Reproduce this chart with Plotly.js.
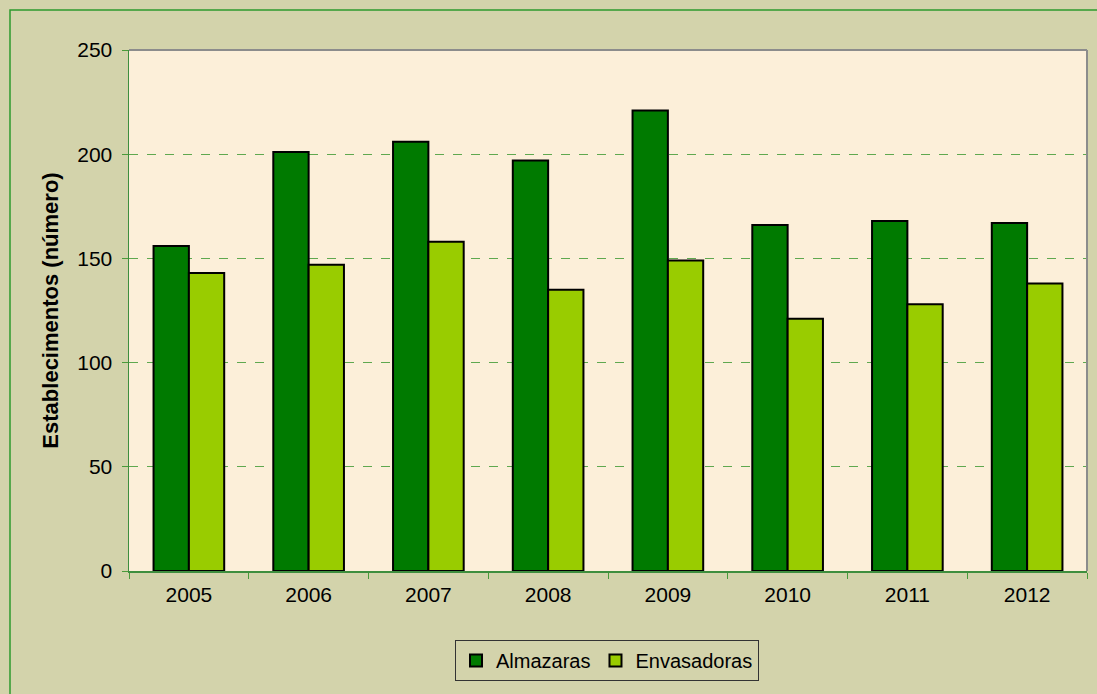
<!DOCTYPE html>
<html>
<head>
<meta charset="utf-8">
<script src="https://cdn.plot.ly/plotly-3.0.1.min.js"></script>
<style>
html,body{margin:0;padding:0;background:#D3D3AB;}
#chart{width:1097px;height:694px;}
</style>
</head>
<body>
<div id="chart"></div>
<script>
const years = ['2005','2006','2007','2008','2009','2010','2011','2012'];
const almazaras = [156, 201, 206, 197, 221, 166, 168, 167];
const envasadoras = [143, 147, 158, 135, 149, 121, 128, 138];
const yTicks = [0, 50, 100, 150, 200, 250];

const FAM = 'Liberation Sans, Arial, sans-serif';
const font = {family: FAM, size: 21, color: '#000'};

const traces = [
  {type:'bar', name:'Almazaras', x: years, y: almazaras,
   marker:{color:'#007A00', line:{color:'#000', width:2}}},
  {type:'bar', name:'Envasadoras', x: years, y: envasadoras,
   marker:{color:'#99CC00', line:{color:'#000', width:2}}}
];

const L = 129, T = 50, R = 1087, B = 571, W = 1097, H = 694;
const pw = R - L, ph = B - T;
const px = v => (v - L) / pw;
const py = v => (B - v) / ph;

const layout = {
  width: W, height: H,
  margin: {l: L, r: W - R, t: T, b: H - B, pad: 0},
  paper_bgcolor: '#D3D3AB',
  plot_bgcolor: '#FCEFD9',
  font: font,
  barmode: 'group',
  bargap: 0.41,
  bargroupgap: 0,
  showlegend: true,
  legend: {
    orientation: 'h', x: px(607), xanchor: 'center', y: py(640), yanchor: 'top',
    bordercolor: '#333', borderwidth: 1, bgcolor: 'rgba(0,0,0,0)',
    font: {family: FAM, size: 20, color: '#000'}, itemwidth: 30, traceorder: 'normal'
  },
  xaxis: {
    type: 'category', tickson: 'boundaries', ticks: 'outside', ticklen: 6,
    tickcolor: '#4A9A3A', showline: true, linecolor: '#3E8E3E', linewidth: 1.5,
    showgrid: false, tickfont: font, automargin: false, ticklabelstandoff: 4
  },
  yaxis: {
    range: [0, 250], tickvals: yTicks, ticks: 'outside', ticklen: 6,
    tickcolor: '#4A9A3A', showline: true, linecolor: '#3E8E3E', linewidth: 1.5,
    showgrid: true, gridcolor: '#5FA84F', griddash: 'dash', gridwidth: 1,
    zeroline: false, tickfont: font, automargin: false, ticklabelstandoff: 5,
    title: {text: 'Establecimentos (número)', font: {family: FAM, size: 22, color: '#000', weight: 'bold'}, standoff: 12}
  },
  shapes: [
    {type:'line', xref:'paper', yref:'paper', x0:0, x1:1, y0:1, y1:1, line:{color:'#8C8C8C', width:2}},
    {type:'line', xref:'paper', yref:'paper', x0:1, x1:1, y0:0, y1:1, line:{color:'#8C8C8C', width:2}},
    {type:'rect', xref:'paper', yref:'paper', x0:px(10), x1:px(1110), y0:py(10), y1:py(710), line:{color:'#2E9A2E', width:1.5}, layer:'below'}
  ]
};

Plotly.newPlot('chart', traces, layout, {displayModeBar: false, staticPlot: true});
</script>
</body>
</html>
